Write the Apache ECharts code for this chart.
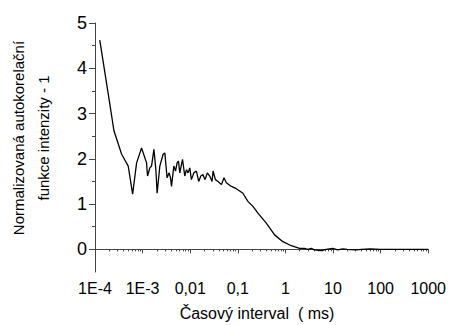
<!DOCTYPE html>
<html>
<head>
<meta charset="utf-8">
<script src="https://cdn.jsdelivr.net/npm/echarts@6/dist/echarts.min.js"></script>
<style>
  html, body { margin: 0; padding: 0; background: #fff; }
  #chart { width: 449px; height: 325px; }
</style>
</head>
<body>
<div id="chart"></div>
<script>
// lag time (ms) and normalized autocorrelation g2 - 1
var lagMs = [
  1.26e-4, 2.0e-4, 2.5e-4, 3.63e-4, 4.99e-4, 6.17e-4, 7.48e-4, 9.52e-4,
  1.21e-3, 1.27e-3, 1.42e-3, 1.54e-3, 1.73e-3, 1.90e-3, 2.02e-3, 2.30e-3,
  2.70e-3, 2.93e-3, 3.27e-3, 3.61e-3, 3.86e-3, 4.05e-3, 4.53e-3, 4.91e-3,
  5.31e-3, 5.68e-3, 6.05e-3, 6.89e-3, 7.69e-3, 8.35e-3, 9.03e-3, 9.80e-3,
  1.06e-2, 1.19e-2, 1.35e-2, 1.51e-2, 1.67e-2, 1.86e-2, 2.05e-2, 2.30e-2,
  2.57e-2, 2.88e-2, 3.02e-2, 3.39e-2, 3.84e-2, 4.53e-2, 5.13e-2, 5.75e-2,
  7.33e-2, 9.33e-2, 0.128, 0.163, 0.208, 0.265, 0.397, 0.593,
  0.886, 1.33, 1.98, 2.52, 2.96, 3.48, 4.08, 5.65,
  7.18, 9.88, 12.6, 16, 20, 30, 40, 60,
  100, 150, 250, 400, 700, 1000
];
var g2Minus1 = [
  4.62, 3.28, 2.62, 2.10, 1.84, 1.22, 1.91, 2.24,
  1.91, 1.62, 1.80, 1.84, 2.21, 1.76, 1.24, 1.84,
  2.10, 2.13, 1.58, 1.69, 1.58, 1.39, 1.84, 1.73,
  1.91, 1.95, 1.69, 1.99, 1.62, 1.76, 1.69, 1.80,
  1.54, 1.69, 1.73, 1.50, 1.62, 1.65, 1.54, 1.69,
  1.62, 1.50, 1.73, 1.54, 1.50, 1.43, 1.58, 1.47,
  1.39, 1.34, 1.24, 1.06, 0.95, 0.80, 0.58, 0.32,
  0.17, 0.08, 0.02, 0.02, 0.00, 0.02, -0.01, -0.03,
  0.00, 0.02, -0.01, 0.01, 0.00, -0.01, 0.00, 0.01,
  0.00, 0.00, 0.00, 0.00, 0.00, 0.00
];

var xTickLabels = ['1E-4', '1E-3', '0,01', '0,1', '1', '10', '100', '1000'];
var yTicks = [0, 1, 2, 3, 4, 5];
var yMinorTicks = [0.5, 1.5, 2.5, 3.5, 4.5];

var xMinorTicks = [];
for (var e = -4; e < 3; e++) {
  for (var k = 2; k <= 9; k++) xMinorTicks.push(k * Math.pow(10, e));
}

var font = "'Liberation Sans', Arial, sans-serif";
var axisColor = '#444';

var chart = echarts.init(document.getElementById('chart'), null, { renderer: 'svg' });
chart.setOption({
  animation: false,
  backgroundColor: '#fff',
  grid: { left: 95, right: 20, top: 23, bottom: 53 },
  xAxis: [
    {
      type: 'log',
      logBase: 10,
      min: 1e-4,
      max: 1000,
      interval: 1,
      axisLine: { lineStyle: { color: axisColor, width: 1 } },
      axisTick: { length: 4, lineStyle: { color: axisColor } },
      axisLabel: {
        color: '#000', fontSize: 16, fontFamily: font, margin: 8,
        formatter: function(v) {
          return xTickLabels[Math.round(Math.log(v) / Math.LN10) + 4];
        }
      },
      splitLine: { show: false }
    },
    {
      type: 'log',
      logBase: 10,
      min: 1e-4,
      max: 1000,
      position: 'bottom',
      axisLine: { show: false },
      axisTick: { length: 2, customValues: xMinorTicks, lineStyle: { color: axisColor } },
      axisLabel: { show: false },
      splitLine: { show: false }
    }
  ],
  yAxis: [
    {
      type: 'value',
      min: -0.5,
      max: 5,
      axisLine: { show: true, lineStyle: { color: axisColor, width: 1 } },
      axisTick: { show: true, length: 6, customValues: yTicks, lineStyle: { color: axisColor } },
      axisLabel: { color: '#000', fontSize: 18, fontFamily: font, margin: 8, customValues: yTicks },
      splitLine: { show: false }
    },
    {
      type: 'value',
      min: -0.5,
      max: 5,
      position: 'left',
      axisLine: { show: false },
      axisTick: { show: true, length: 3, customValues: yMinorTicks, lineStyle: { color: axisColor } },
      axisLabel: { show: false },
      splitLine: { show: false }
    }
  ],
  graphic: [
    {
      type: 'text',
      x: 31, y: 138,
      rotation: Math.PI / 2,
      style: {
        text: 'Normalizovaná autokorelační\nfunkce intenzity - 1',
        font: '15px ' + font,
        fill: '#000',
        align: 'center',
        verticalAlign: 'middle',
        lineHeight: 25
      }
    },
    {
      type: 'text',
      x: 257, y: 313,
      style: {
        text: 'Časový interval  ( ms)',
        font: '16px ' + font,
        fill: '#000',
        align: 'center',
        verticalAlign: 'middle'
      }
    }
  ],
  series: [{
    type: 'line',
    xAxisIndex: 0,
    yAxisIndex: 0,
    data: lagMs.map(function(t, i) { return [t, g2Minus1[i]]; }),
    showSymbol: false,
    symbol: 'none',
    lineStyle: { color: '#000', width: 1.3 }
  }]
});
</script>
</body>
</html>
